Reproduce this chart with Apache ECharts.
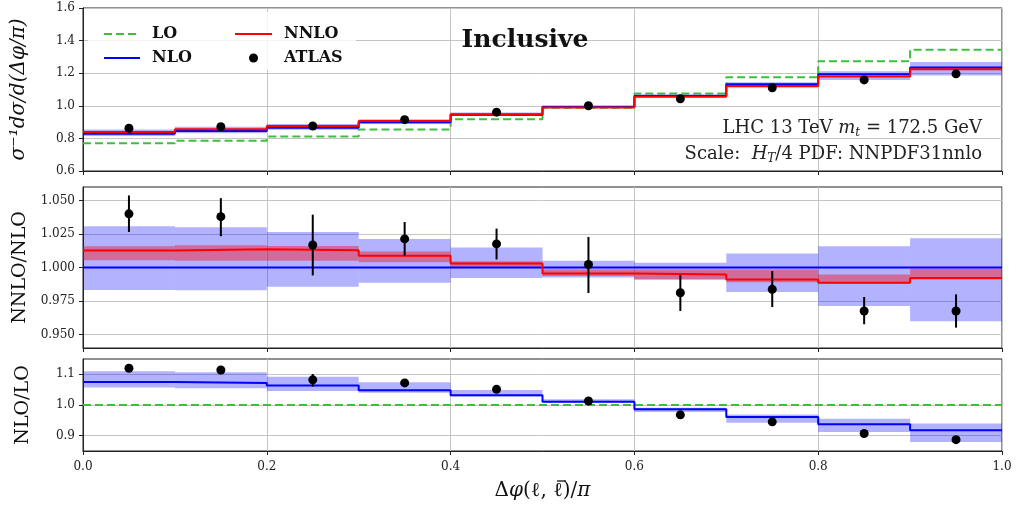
<!DOCTYPE html>
<html>
<head>
<meta charset="utf-8">
<script src="https://cdn.jsdelivr.net/npm/echarts@6/dist/echarts.min.js"></script>
<style>
html,body{margin:0;padding:0;background:#fff;}
#chart{width:1018px;height:510px;}
</style>
</head>
<body>
<div id="chart"></div>
<script>
// ---------- data ----------
const binEdges = [0.0, 0.1, 0.2, 0.3, 0.4, 0.5, 0.6, 0.7, 0.8, 0.9, 1.0];
const binCenters = [0.05, 0.15, 0.25, 0.35, 0.45, 0.55, 0.65, 0.75, 0.85, 0.95];
const xTicks = [0.0, 0.2, 0.4, 0.6, 0.8, 1.0];

// top panel: normalised distribution
const loTop = [0.771, 0.786, 0.812, 0.854, 0.918, 0.988, 1.076, 1.175, 1.274, 1.344];
const nloTop = [0.829, 0.845, 0.865, 0.899, 0.945, 0.994, 1.062, 1.132, 1.193, 1.235];
const nloTopLo = [0.815, 0.831, 0.853, 0.889, 0.938, 0.986, 1.052, 1.111, 1.159, 1.186];
const nloTopHi = [0.855, 0.871, 0.888, 0.918, 0.959, 0.999, 1.066, 1.144, 1.212, 1.268];
const nnloTop = [0.839, 0.856, 0.876, 0.907, 0.948, 0.990, 1.056, 1.122, 1.179, 1.225];
const atlasTop = [0.862, 0.872, 0.876, 0.915, 0.961, 1.000, 1.043, 1.111, 1.159, 1.196];
const topTicks = [0.6, 0.8, 1.0, 1.2, 1.4, 1.6];

// middle panel: NNLO/NLO
const nloSelfRatio = [1, 1, 1, 1, 1, 1, 1, 1, 1, 1];
const nloBandLo = [0.9832, 0.9830, 0.9856, 0.9886, 0.9921, 0.9925, 0.9910, 0.9817, 0.9713, 0.9600];
const nloBandHi = [1.0307, 1.0300, 1.0265, 1.0213, 1.0149, 1.0050, 1.0035, 1.0104, 1.0158, 1.0218];
const nnloRatio = [1.0126, 1.0136, 1.0129, 1.0087, 1.0030, 0.9955, 0.9948, 0.9911, 0.9886, 0.9921];
const nnloBandLo = [1.0054, 1.0050, 1.0050, 1.0040, 1.0005, 0.9936, 0.9910, 0.9890, 0.9880, 0.9910];
const nnloBandHi = [1.0158, 1.0166, 1.0160, 1.0120, 1.0047, 0.9985, 0.9985, 0.9985, 0.9948, 0.9990];
const atlasRatio = [1.0400, 1.0379, 1.0168, 1.0213, 1.0176, 1.0022, 0.9812, 0.9837, 0.9676, 0.9676];
const atlasRatioLo = [1.0265, 1.0233, 0.9941, 1.0089, 1.0060, 0.9810, 0.9676, 0.9705, 0.9577, 0.9552];
const atlasRatioHi = [1.0537, 1.0517, 1.0394, 1.0339, 1.0290, 1.0228, 0.9943, 0.9973, 0.9780, 0.9800];
const midTicks = [0.950, 0.975, 1.000, 1.025, 1.050];

// bottom panel: NLO/LO
const loSelfRatio = [1, 1, 1, 1, 1, 1, 1, 1, 1, 1];
const nloLoRatio = [1.0754, 1.0721, 1.0634, 1.0480, 1.0317, 1.0110, 0.9860, 0.9610, 0.9370, 0.9180];
const nloLoBandLo = [1.057, 1.055, 1.046, 1.040, 1.028, 1.008, 0.977, 0.942, 0.912, 0.879];
const nloLoBandHi = [1.110, 1.107, 1.092, 1.074, 1.049, 1.019, 0.991, 0.969, 0.955, 0.940];
const atlasLoRatio = [1.120, 1.114, 1.082, 1.072, 1.051, 1.013, 0.968, 0.945, 0.907, 0.887];
const atlasLoErrLo = [null, null, 1.060, null, null, null, null, null, null, null];
const atlasLoErrHi = [null, null, 1.101, null, null, null, null, null, null, null];
const botTicks = [0.9, 1.0, 1.1];

// ---------- helpers ----------
const FONT = 'DejaVu Serif';
const C_LO = '#3dbf3d', C_NLO = '#0000ff', C_NNLO = '#ff0000';
const BAND_NLO = 'rgba(0,0,255,0.3)', BAND_NNLO = 'rgba(255,0,0,0.4)';

function steps(vals) {
  return binEdges.map((x, i) => [x, vals[Math.min(i, vals.length - 1)]]);
}
function bands(lo, hi) {
  return lo.map((v, i) => [binEdges[i], binEdges[i + 1], v, hi[i]]);
}
function errs(lo, hi) {
  const out = [];
  lo.forEach((v, i) => { if (v !== null) out.push([binCenters[i], v, hi[i]]); });
  return out;
}
function pts(vals) { return vals.map((v, i) => [binCenters[i], v]); }

function bandSeries(name, idx, lo, hi, color) {
  return {
    name, type: 'custom', xAxisIndex: idx, yAxisIndex: idx,
    encode: { x: [0, 1], y: [2, 3] }, z: 2,
    data: bands(lo, hi),
    renderItem: (params, api) => {
      const p0 = api.coord([api.value(0), api.value(3)]);
      const p1 = api.coord([api.value(1), api.value(2)]);
      return { type: 'rect', shape: { x: p0[0], y: p0[1], width: p1[0] - p0[0], height: p1[1] - p0[1] }, style: { fill: color } };
    }
  };
}
function errSeries(name, idx, data) {
  return {
    name, type: 'custom', xAxisIndex: idx, yAxisIndex: idx,
    encode: { x: 0, y: [1, 2] }, z: 5,
    data,
    renderItem: (params, api) => {
      const a = api.coord([api.value(0), api.value(1)]);
      const b = api.coord([api.value(0), api.value(2)]);
      return { type: 'line', shape: { x1: a[0], y1: a[1], x2: b[0], y2: b[1] }, style: { stroke: '#000', lineWidth: 2 } };
    }
  };
}
function stepLine(name, idx, vals, color, dashed) {
  return {
    name, type: 'line', xAxisIndex: idx, yAxisIndex: idx, step: 'end',
    symbol: 'none', showSymbol: false, z: 3,
    data: steps(vals),
    lineStyle: { color, width: 2, type: dashed ? [8, 4] : 'solid' },
    itemStyle: { color }
  };
}
function scatterPts(name, idx, vals) {
  return {
    name, type: 'scatter', xAxisIndex: idx, yAxisIndex: idx,
    symbol: 'circle', symbolSize: 9, z: 6,
    itemStyle: { color: '#000', opacity: 1 },
    data: pts(vals)
  };
}

const gridLine = { show: true, lineStyle: { color: '#c4c4c4', width: 1 } };
const axisLn = { show: true, onZero: false, lineStyle: { color: '#222', width: 1 } };
const tickStyle = { show: true, inside: false, length: 4, lineStyle: { color: '#222', width: 1 } };
const labelFont = { fontFamily: FONT, fontSize: 12, color: '#222' };

function xAxis(idx, showLabels) {
  return {
    type: 'value', gridIndex: idx, min: 0, max: 1, interval: 0.2,
    axisLine: axisLn, axisTick: tickStyle, splitLine: gridLine,
    axisLabel: Object.assign({ show: showLabels, margin: 10, formatter: v => v.toFixed(1) }, labelFont),
    name: showLabels ? 'Δ{i|φ}(ℓ, ℓ)/{i|π}' : '',
    nameLocation: 'middle', nameGap: 30,
    nameTextStyle: { fontFamily: FONT, fontSize: 20, color: '#111',
      rich: { i: { fontFamily: FONT, fontSize: 20, fontStyle: 'italic', color: '#111' } } }
  };
}
function yAxis(idx, min, max, ticks, digits, name, nameGap, nameSize, italic) {
  return {
    type: 'value', gridIndex: idx, min, max,
    axisLine: axisLn,
    axisTick: Object.assign({}, tickStyle, { customValues: ticks }),
    splitLine: gridLine,
    axisLabel: Object.assign({ margin: 8, customValues: ticks, formatter: v => v.toFixed(digits) }, labelFont),
    name, nameLocation: 'middle', nameRotate: 90, nameGap,
    nameTextStyle: { fontFamily: FONT, fontSize: nameSize, color: '#111', fontStyle: italic ? 'italic' : 'normal' }
  };
}

const legendText = { fontFamily: FONT, fontWeight: 'bold', fontSize: 16, color: '#111', padding: [0, 0, 0, 7] };
const noSym = { opacity: 0 };

const option = {
  animation: false,
  backgroundColor: '#fff',
  grid: [
    { left: 83, right: 16, top: 8, height: 163, show: true, borderColor: '#222', borderWidth: 1, backgroundColor: 'transparent' },
    { left: 83, right: 16, top: 187, height: 161, show: true, borderColor: '#222', borderWidth: 1, backgroundColor: 'transparent' },
    { left: 83, right: 16, top: 359, height: 92, show: true, borderColor: '#222', borderWidth: 1, backgroundColor: 'transparent' }
  ],
  xAxis: [xAxis(0, false), xAxis(1, false), xAxis(2, true)],
  yAxis: [
    Object.assign(yAxis(0, 0.6, 1.6, topTicks, 1, 'σ⁻¹dσ/d(Δφ/π)', 54, 20, true), { interval: 0.2 }),
    yAxis(1, 0.94, 1.06, midTicks, 3, 'NNLO/NLO', 50, 19, false),
    yAxis(2, 0.85, 1.15, botTicks, 1, 'NLO/LO', 50, 19, false)
  ],
  legend: [
    { data: [{ name: 'LO', itemStyle: noSym }, { name: 'NLO', itemStyle: noSym }], orient: 'vertical', left: 98, top: 21,
      itemWidth: 36, itemHeight: 9, itemGap: 8, selectedMode: false, textStyle: legendText, z: 10 },
    { data: [{ name: 'NNLO', itemStyle: noSym }, { name: 'ATLAS', icon: 'circle' }], orient: 'vertical', left: 229, top: 21,
      itemWidth: 37, itemHeight: 9, itemGap: 8, selectedMode: false, textStyle: legendText, z: 10 }
  ],
  graphic: [
    { type: 'rect', z: 1, silent: true, shape: { x: 88, y: 12, width: 268, height: 58 }, style: { fill: 'rgba(255,255,255,0.82)' } },
    { type: 'text', z: 10, style: { x: 525, y: 40, text: 'Inclusive', align: 'center', verticalAlign: 'middle',
      font: 'bold 25px "DejaVu Serif"', fill: '#111' } },
    { type: 'text', z: 10, style: { x: 982, y: 128, align: 'right', verticalAlign: 'middle',
      text: 'LHC 13 TeV {i|m}{s|t} = 172.5 GeV', font: '18px "DejaVu Serif"', fill: '#222',
      rich: { i: { fontFamily: FONT, fontSize: 18, fontStyle: 'italic', fill: '#222', lineHeight: 22 },
              s: { fontFamily: FONT, fontSize: 12, fontStyle: 'italic', fill: '#222', verticalAlign: 'bottom', lineHeight: 12 } } } },
    { type: 'text', z: 10, style: { x: 982, y: 154, align: 'right', verticalAlign: 'middle',
      text: 'Scale:  {i|H}{s|T}/4 PDF: NNPDF31nnlo', font: '18px "DejaVu Serif"', fill: '#222',
      rich: { i: { fontFamily: FONT, fontSize: 18, fontStyle: 'italic', fill: '#222', lineHeight: 22 },
              s: { fontFamily: FONT, fontSize: 12, fontStyle: 'italic', fill: '#222', verticalAlign: 'bottom', lineHeight: 12 } } } },
    // bar over the second ell of the x-axis title
    { type: 'line', z: 10, silent: true, shape: { x1: 557, y1: 481, x2: 566, y2: 481 }, style: { stroke: '#111', lineWidth: 1.3 } }
  ],
  series: [
    // top
    bandSeries('NLO band top', 0, nloTopLo, nloTopHi, BAND_NLO),
    stepLine('LO', 0, loTop, C_LO, true),
    stepLine('NLO', 0, nloTop, C_NLO, false),
    stepLine('NNLO', 0, nnloTop, C_NNLO, false),
    scatterPts('ATLAS', 0, atlasTop),
    // middle
    bandSeries('NLO band mid', 1, nloBandLo, nloBandHi, BAND_NLO),
    bandSeries('NNLO band mid', 1, nnloBandLo, nnloBandHi, BAND_NNLO),
    stepLine('NLO/NLO', 1, nloSelfRatio, C_NLO, false),
    stepLine('NNLO/NLO', 1, nnloRatio, C_NNLO, false),
    errSeries('ATLAS err mid', 1, errs(atlasRatioLo, atlasRatioHi)),
    scatterPts('ATLAS/NLO', 1, atlasRatio),
    // bottom
    bandSeries('NLO band bot', 2, nloLoBandLo, nloLoBandHi, BAND_NLO),
    stepLine('LO/LO', 2, loSelfRatio, C_LO, true),
    stepLine('NLO/LO', 2, nloLoRatio, C_NLO, false),
    errSeries('ATLAS err bot', 2, errs(atlasLoErrLo, atlasLoErrHi)),
    scatterPts('ATLAS/LO', 2, atlasLoRatio)
  ]
};

const chart = echarts.init(document.getElementById('chart'), null, { renderer: 'canvas' });
chart.setOption(option);
</script>
</body>
</html>
